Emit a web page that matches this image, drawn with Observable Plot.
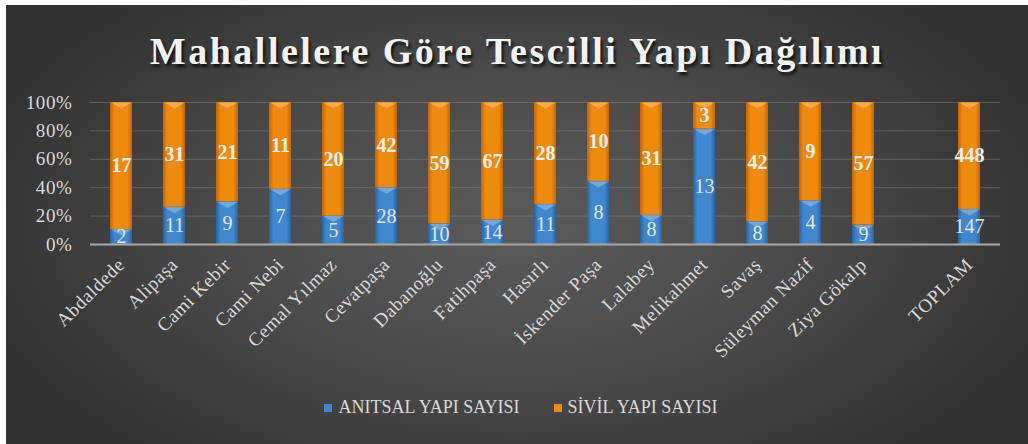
<!DOCTYPE html>
<html>
<head>
<meta charset="utf-8">
<script src="https://cdn.jsdelivr.net/npm/d3@7"></script>
<script src="https://cdn.jsdelivr.net/npm/@observablehq/plot@0.6"></script>
<style>
  html, body { margin: 0; padding: 0; background: #ffffff; }
  #panel {
    position: absolute; left: 6px; top: 5px; width: 1022px; height: 439px; overflow: hidden;
    background: radial-gradient(ellipse 60% 75% at 50% 50%, #5a5a5a 0%, #4b4b4b 45%, #353535 85%, #2f2f2f 100%);
    font-family: "Liberation Serif", "DejaVu Serif", serif;
  }
  #title {
    position: absolute; left: 0; width: 100%; top: 24px; text-align: center;
    font-family: "Liberation Serif", serif; font-weight: bold; font-size: 38px;
    letter-spacing: 2.5px; color: #f2f2f2; text-shadow: 2px 3px 3px rgba(0,0,0,0.75);
  }
  #chart { position: absolute; left: 0; top: 85px; }
  #legend {
    position: absolute; top: 392px; left: 0; width: 100%; display: flex; justify-content: center;
    gap: 34px; font-size: 18px; color: #d9d9d9; margin-left: 4px;
  }
  .item { display: flex; align-items: center; gap: 6px; }
  .sw { width: 8px; height: 8px; display: inline-block; }
</style>
</head>
<body>
<div id="panel">
  <div id="title">Mahallelere Göre Tescilli Yapı Dağılımı</div>
  <div id="chart"></div>
  <div id="legend"></div>
</div>
<script>
const categories = ["Abdaldede", "Alipaşa", "Cami Kebir", "Cami Nebi", "Cemal Yılmaz", "Cevatpaşa", "Dabanoğlu", "Fatihpaşa", "Hasırlı", "İskender Paşa", "Lalabey", "Melikahmet", "Savaş", "Süleyman Nazif", "Ziya Gökalp", "TOPLAM"];
const anitsal = [2, 11, 9, 7, 5, 28, 10, 14, 11, 8, 8, 13, 8, 4, 9, 147];
const sivil = [17, 31, 21, 11, 20, 42, 59, 67, 28, 10, 31, 3, 42, 9, 57, 448];
const seriesNames = ["ANITSAL YAPI SAYISI", "SİVİL YAPI SAYISI"];
const seriesColors = ["#3f87cf", "#f08a0c"];
const yTicks = [0, 0.2, 0.4, 0.6, 0.8, 1];

const spacer = " ";
const domain = [...categories.slice(0, -1), spacer, categories[categories.length - 1]];

const rows = [];
categories.forEach((c, i) => {
  rows.push({mahalle: c, seri: seriesNames[0], value: anitsal[i]});
  rows.push({mahalle: c, seri: seriesNames[1], value: sivil[i]});
});

const stackOpts = {x: "mahalle", y: "value", z: "seri", offset: "normalize", order: seriesNames};

// flattened downward bevel highlight drawn at the top of each stacked segment
const bevel = {draw(ctx) { const w = 10.5, h = 6; ctx.moveTo(-w, 0); ctx.lineTo(w, 0); ctx.lineTo(0, h); ctx.closePath(); }};

const plot = Plot.plot({
  width: 1022,
  height: 290,
  marginLeft: 84,
  marginRight: 28,
  marginTop: 12,
  marginBottom: 136,
  style: {background: "transparent", color: "#d9d9d9", fontFamily: "'Liberation Serif', 'DejaVu Serif', serif", fontSize: "19px", overflow: "visible"},
  x: {domain, paddingInner: 0.59, paddingOuter: 0.295, label: null, tickSize: 0, tickPadding: 17, tickRotate: -45},
  y: {domain: [0, 1], ticks: yTicks, tickFormat: d => Math.round(d * 100) + "%", label: null, tickSize: 0, tickPadding: 18},
  color: {domain: seriesNames, range: ["url(#gBlue)", "url(#gOrange)"]},
  marks: [
    Plot.gridY(yTicks.slice(1), {stroke: "#8a8a8a", strokeOpacity: 0.45, strokeWidth: 1}),
    Plot.barY(rows, Plot.stackY({...stackOpts, fill: "seri"})),
    Plot.dot(rows, Plot.stackY2({...stackOpts, symbol: bevel, fill: "#ffffff", fillOpacity: 0.28, stroke: "none"})),
    Plot.ruleY([0], {stroke: "#a9a9a9", strokeWidth: 2}),
    Plot.text(rows, Plot.stackY({...stackOpts, text: d => d.seri === seriesNames[0] ? String(d.value) : "", fill: "#e6e6e6", fontSize: 20, fontWeight: "normal"})),
    Plot.text(rows, Plot.stackY({...stackOpts, text: d => d.seri === seriesNames[1] ? String(d.value) : "", fill: "#f0f0f0", fontSize: 20, fontWeight: "bold"}))
  ]
});

document.getElementById("chart").appendChild(plot);
plot.querySelectorAll("g[aria-label='x-axis tick label'] text, g[aria-label='y-axis tick label'] text").forEach(t => t.setAttribute("letter-spacing", "0.6"));

const svgNS = "http://www.w3.org/2000/svg";
const defs = document.createElementNS(svgNS, "defs");
function grad(id, edge, mid) {
  const g = document.createElementNS(svgNS, "linearGradient");
  g.setAttribute("id", id);
  g.setAttribute("x1", "0"); g.setAttribute("x2", "1"); g.setAttribute("y1", "0"); g.setAttribute("y2", "0");
  [[0, edge], [0.2, mid], [0.8, mid], [1, edge]].forEach(([o, c]) => {
    const s = document.createElementNS(svgNS, "stop");
    s.setAttribute("offset", o); s.setAttribute("stop-color", c);
    g.appendChild(s);
  });
  defs.appendChild(g);
}
grad("gBlue", "#2b62a0", seriesColors[0]);
grad("gOrange", "#c26505", seriesColors[1]);
plot.insertBefore(defs, plot.firstChild);

const legend = document.getElementById("legend");
seriesNames.forEach((n, i) => {
  const it = document.createElement("div");
  it.className = "item";
  const sw = document.createElement("span");
  sw.className = "sw";
  sw.style.background = seriesColors[i];
  const t = document.createElement("span");
  t.textContent = n;
  it.appendChild(sw); it.appendChild(t);
  legend.appendChild(it);
});
</script>
</body>
</html>
